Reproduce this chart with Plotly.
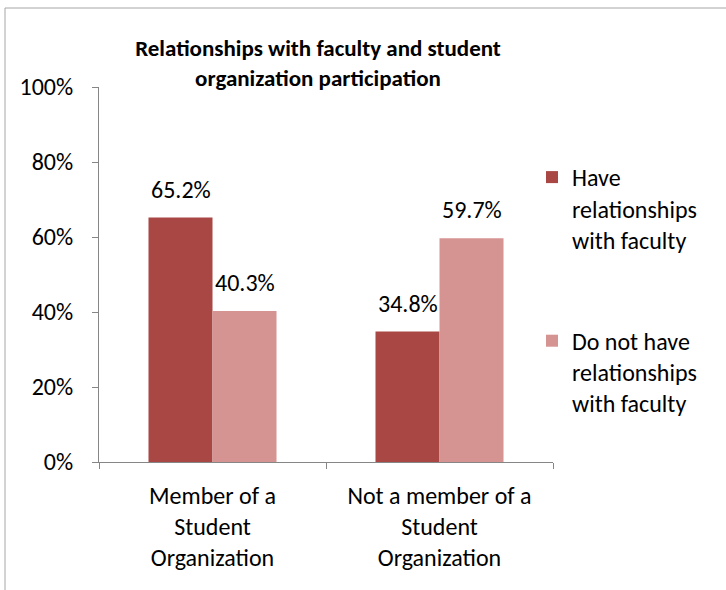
import plotly.graph_objects as go

categories = ["Member of a<br>Student<br>Organization", "Not a member of a<br>Student<br>Organization"]
series_names = ["Have<br>relationships<br>with faculty", "Do not have<br>relationships<br>with faculty"]
have_rel = [0.652, 0.348]
no_rel = [0.403, 0.597]
colors = ["#A94745", "#D59392"]

FONT = "Carlito, Lato, 'Liberation Sans', sans-serif"
FS = 24

L, R, T, B = 99, 173, 87, 128
W, H = 726, 590
pw, ph = W - L - R, H - T - B

def px_x(p):
    return (p - L) / pw

def px_y(p):
    return (H - B - p) / ph

fig = go.Figure()
series = [(series_names[0], have_rel, colors[0], "a", -32),
          (series_names[1], no_rel, colors[1], "b", 32)]
annotations = []
for name, vals, col, grp, xs in series:
    fig.add_trace(go.Bar(
        x=categories, y=vals, name=name, marker_color=col, marker_line_width=0,
        legendgroup=grp, hoverinfo="x+y",
    ))
    for cat, v in zip(categories, vals):
        annotations.append(dict(
            x=cat, y=v, xref="x", yref="y", text=f"{v*100:.1f}%",
            showarrow=False, xanchor="center", yanchor="bottom",
            xshift=xs, yshift=12,
            font=dict(size=FS, family=FONT, color="#000000"),
        ))

fig.update_layout(
    width=W, height=H,
    margin=dict(l=L, r=R, t=T, b=B, autoexpand=False),
    paper_bgcolor="white", plot_bgcolor="white",
    font=dict(family=FONT, size=FS, color="#000000"),
    barmode="group", bargap=0.436, bargroupgap=0,
    title=dict(
        text="<b>Relationships with faculty and student<br>organization participation</b>",
        x=318 / W, xanchor="center", y=1 - 56 / H, yanchor="top",
        font=dict(size=23, family=FONT, color="#000000"),
    ),
    legend=dict(
        x=px_x(532), xanchor="left", y=px_y(155), yanchor="top",
        traceorder="grouped", tracegroupgap=67, valign="top",
        font=dict(size=FS, family=FONT, color="#000000"),
        bgcolor="rgba(0,0,0,0)", itemwidth=30,
    ),
    xaxis=dict(
        showline=True, linecolor="#868686", linewidth=1,
        ticks="outside", tickson="boundaries", ticklen=6, tickcolor="#868686",
        tickfont=dict(size=FS, family=FONT), showgrid=False,
        ticklabelstandoff=12, automargin=False,
    ),
    yaxis=dict(
        range=[0, 1], dtick=0.2, tickformat=".0%",
        showline=True, linecolor="#868686", linewidth=1,
        ticks="outside", ticklen=6, tickcolor="#868686",
        tickfont=dict(size=FS, family=FONT), showgrid=False, zeroline=False,
        ticklabelstandoff=14, automargin=False,
    ),
    annotations=annotations,
    shapes=[dict(
        type="rect", xref="paper", yref="paper",
        x0=px_x(5), x1=px_x(740), y0=px_y(600), y1=px_y(8),
        line=dict(color="#A6A6A6", width=1), fillcolor="rgba(0,0,0,0)", layer="below",
    )],
)

fig.write_html(
    "out.html",
    config={"displayModeBar": False},
    post_script="document.body.style.margin='0';document.body.style.overflow='hidden';",
)
